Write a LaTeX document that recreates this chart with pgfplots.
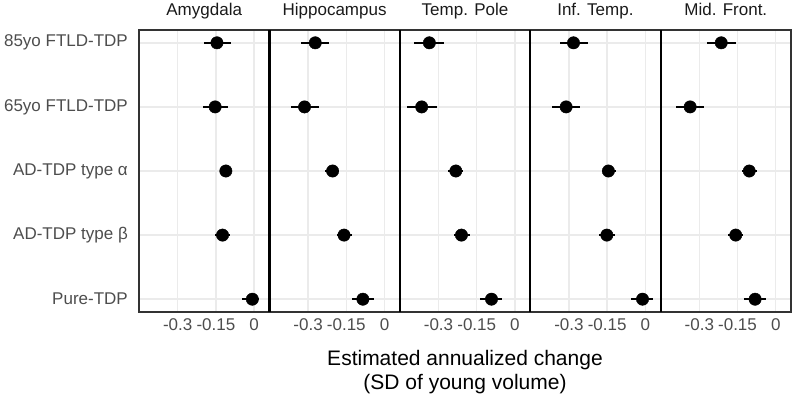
\documentclass[border=0pt]{standalone}
\usepackage{pgfplots}
\pgfplotsset{compat=1.18}
\usepackage{pgfplotstable}
\usepackage{fontspec}
\setmainfont{Liberation Sans}
\definecolor{gridc}{HTML}{EBEBEB}
\definecolor{bordc}{HTML}{333333}
\definecolor{txtc}{HTML}{4D4D4D}
\definecolor{stripc}{HTML}{1A1A1A}
\newcommand{\ticksize}{\fontsize{17}{20.4}\selectfont}
\newcommand{\titlesize}{\fontsize{21}{25.2}\selectfont}

\pgfplotstableread{
y x lo hi
1 -0.146 -0.195 -0.092
2 -0.153 -0.201 -0.101
3 -0.111 -0.133 -0.085
4 -0.124 -0.153 -0.094
5 -0.007 -0.046 0.020
}\amyg
\pgfplotstableread{
y x lo hi
1 -0.272 -0.329 -0.219
2 -0.314 -0.368 -0.259
3 -0.204 -0.233 -0.178
4 -0.159 -0.187 -0.128
5 -0.085 -0.126 -0.041
}\hipp
\pgfplotstableread{
y x lo hi
1 -0.336 -0.396 -0.279
2 -0.366 -0.424 -0.307
3 -0.232 -0.261 -0.205
4 -0.210 -0.241 -0.176
5 -0.092 -0.137 -0.049
}\tpole
\pgfplotstableread{
y x lo hi
1 -0.282 -0.335 -0.226
2 -0.311 -0.367 -0.256
3 -0.145 -0.171 -0.115
4 -0.151 -0.181 -0.121
5 -0.011 -0.056 0.029
}\inftemp
\pgfplotstableread{
y x lo hi
1 -0.214 -0.271 -0.157
2 -0.336 -0.391 -0.280
3 -0.104 -0.133 -0.074
4 -0.157 -0.188 -0.127
5 -0.081 -0.124 -0.038
}\midfront

\pgfplotsset{
  every axis title shift=0pt,
  panel/.style={
    width=130.4pt, height=282pt, scale only axis,
    anchor=south west,
    xmin=-0.452, xmax=0.060, ymin=0.8, ymax=5.2, y dir=reverse,
    xtick={-0.3,-0.15,0}, xticklabels={{-0.3},{-0.15},{0}},
    ytick={1,2,3,4,5}, yticklabels={},
    grid=major, major grid style={line width=1.4pt, color=gridc},
    axis line style={color=bordc, line width=1.1pt},
    major tick length=0pt,
    xticklabel style={font=\ticksize, color=txtc, anchor=north, inner sep=0pt, yshift=-6pt},
    title style={at={(0.5,1)}, anchor=base, yshift=15pt, font=\ticksize, color=stripc, inner sep=0pt},
  },
  pts/.style={black, only marks, mark=*, mark size=6.2pt,
    error bars/.cd, x dir=both, x explicit, error mark=none,
    error bar style={line width=2.6pt, black}},
}
\newcommand{\plotdata}[1]{\addplot[pts] table[x=x, y=y,
   x error plus expr=\thisrow{hi}-\thisrow{x},
   x error minus expr=\thisrow{x}-\thisrow{lo}] {#1};}

\begin{document}
\begin{tikzpicture}
\useasboundingbox (0,0) rectangle (794pt,402pt);
\begin{axis}[panel, at={(139pt,90pt)}, title={Amygdala},
  yticklabels={85yo FTLD-TDP, 65yo FTLD-TDP, AD-TDP type α, AD-TDP type β, Pure-TDP},
  yticklabel style={font=\ticksize, color=txtc, anchor=east, inner sep=0pt, xshift=-11pt}]
\plotdata{\amyg}
\end{axis}
\begin{axis}[panel, at={(269.4pt,90pt)}, title={Hippocampus}]
\plotdata{\hipp}
\end{axis}
\begin{axis}[panel, at={(399.8pt,90pt)}, title={Temp. Pole}]
\plotdata{\tpole}
\end{axis}
\begin{axis}[panel, at={(530.2pt,90pt)}, title={Inf. Temp.}]
\plotdata{\inftemp}
\end{axis}
\begin{axis}[panel, at={(660.6pt,90pt)}, title={Mid. Front.}]
\plotdata{\midfront}
\end{axis}
\foreach \xx in {269.4,399.8,530.2,660.6}{
  \draw[black, line width=2.2pt] (\xx pt,90pt) -- (\xx pt,372pt);
}
\node[anchor=base, font=\titlesize, color=black, inner sep=0pt] at (465pt,37pt) {Estimated annualized change};
\node[anchor=base, font=\titlesize, color=black, inner sep=0pt] at (465pt,13pt) {(SD of young volume)};
\end{tikzpicture}
\end{document}
